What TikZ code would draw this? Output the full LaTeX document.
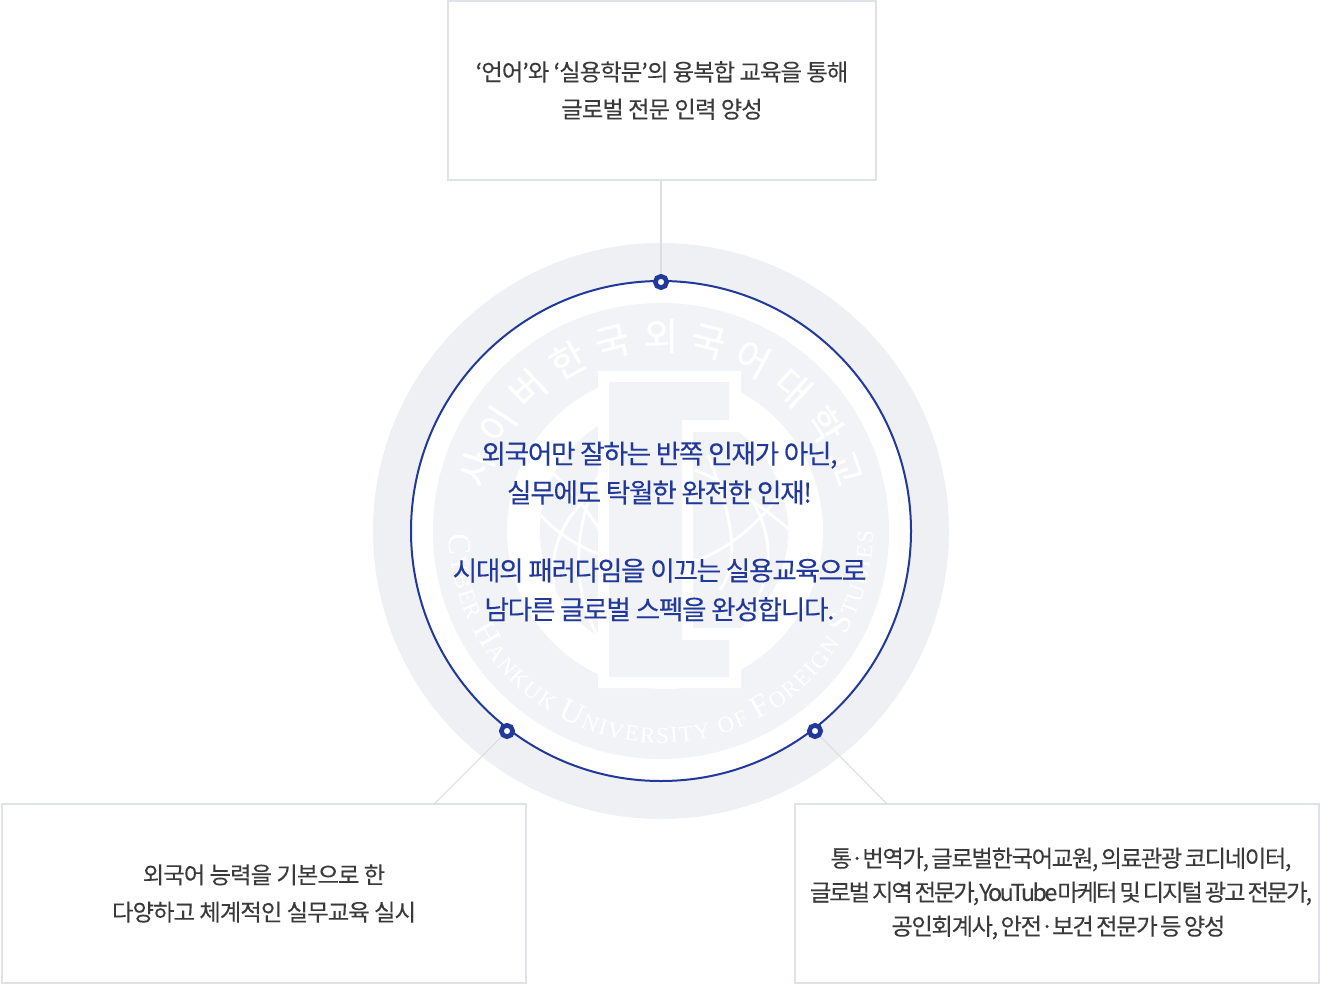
\documentclass[tikz,border=0pt]{standalone}
\usepackage{fontspec}
\usetikzlibrary{decorations.text,calc}
\newfontfamily\krA{Noto Sans CJK KR}[LetterSpace=-4,FakeBold=0.1]
\newfontfamily\krB{Noto Sans CJK KR}[LetterSpace=-6,WordSpace=0.6,FakeBold=0.1]
\newfontfamily\krD{Noto Sans CJK KR}[LetterSpace=-9,WordSpace=0.6,FakeBold=0.1]
\newfontfamily\krE{Noto Sans CJK KR}[LetterSpace=-11,FakeBold=0.1]
\newfontfamily\krC{Noto Sans CJK KR}[LetterSpace=-5,FakeBold=0.2]
\newfontfamily\krS{Noto Sans CJK KR}[FakeBold=0.8]
\newfontfamily\sealf{Liberation Serif}
\definecolor{ringc}{HTML}{EFF0F4}
\definecolor{sealc}{HTML}{F2F3F6}
\definecolor{navy}{HTML}{21399A}
\definecolor{edge}{HTML}{DFE2EA}
\definecolor{link}{HTML}{DADDE4}
\definecolor{ink}{HTML}{3A3A3A}
\def\fa{\color{white}\sealf\fontsize{24pt}{24pt}\selectfont}
\def\fb{\color{white}\sealf\fontsize{17pt}{17pt}\selectfont}
\tikzset{
  infobox/.style={draw=edge,line width=1.5pt,fill=white,inner sep=0pt,align=center,text=ink,font=\krA\fontsize{17.5pt}{27.9pt}\selectfont,minimum height=134.5pt},
  dotmark/.style={circle,draw=navy,fill=white,line width=3.5pt,minimum size=8.5pt,inner sep=0pt},
  linkline/.style={draw=link,line width=.8pt},
  sealchar/.style={text=white,inner sep=0pt,font=\krS\fontsize{28pt}{28pt}\selectfont},
  globeline/.style={draw=white,line width=2.2pt}
}
\begin{document}
\begin{tikzpicture}[x=.75pt,y=-.75pt]
\useasboundingbox (0,0) rectangle (1320,984);
% rings
\fill[ringc] (661,531) circle[radius=216pt];
\draw[navy,fill=white,line width=1.5pt] (661,531) circle[radius=187.5pt];
\fill[sealc] (661,531) circle[radius=171pt];
% curved Korean name
\foreach \ch/\ang [count=\i] in {사/161.3,이/147,버/133,한/118.7,국/104.5,외/90,국/76,어/62,대/47.5,학/33,교/19}{
  \node[sealchar,rotate=\ang-90] (seal\i) at ({661+195*cos(\ang)},{531-195*sin(\ang)}) {\ch};
}
% curved Latin name
\path[decorate,decoration={text along path,text align={fit to path},
  text={|\fa|C|\fb|YBER |\fa|H|\fb|ANKUK |\fa|U|\fb|NIVERSITY OF |\fa|F|\fb|OREIGN |\fa|S|\fb|TUDIES}}]
  (449.0,534.7) arc[start angle=181,end angle=360,radius=159pt];
% inner emblem
\fill[white] (665,531) circle[radius=118.5pt];
\fill[sealc] (664,531) circle[radius=93pt];
\begin{scope}
\clip (664,531) circle[radius=93pt];
\draw[globeline] (538,512) .. controls (570,550) and (620,566) .. (665,566) .. controls (710,566) and (755,530) .. (785,488);
\draw[globeline] (590,495) .. controls (555,525) and (535,575) .. (575,650);
\draw[globeline] (610,455) .. controls (570,520) and (570,590) .. (600,640);
\draw[globeline] (545,465) .. controls (565,485) and (590,510) .. (605,540);
\draw[globeline] (708,455) .. controls (725,500) and (745,555) .. (720,590);
\draw[globeline] (752,500) .. controls (778,545) and (770,580) .. (745,625);
\draw[globeline] (695,470) .. controls (720,480) and (755,500) .. (790,530);
\end{scope}
\fill[white] (598,371) -- (741,371) -- (741,432) -- (693,432) -- (693,628) -- (741,628) -- (741,688) -- (598,688) -- cycle;
\fill[sealc] (609,382) -- (729,382) -- (729,420) -- (682,420) -- (682,640) -- (729,640) -- (729,677) -- (609,677) -- cycle;
% boxes
\node[infobox,minimum width=321pt] (top) at (662,90.5) {‘언어’와 ‘실용학문’의 융복합 교육을 통해\\글로벌 전문 인력 양성};
\node[infobox,minimum width=393pt] (left) at (264,893.5) {외국어 능력을 기본으로 한\\다양하고 체계적인 실무교육 실시};
\node[infobox,minimum width=393pt,font=\krB\fontsize{17.5pt}{25.5pt}\selectfont] (right) at (1057,893.5) {\hspace*{6pt}통·번역가, 글로벌한국어교원, 의료관광 코디네이터,\\\hspace*{6pt}{\krD 글로벌 지역 전문가,{\krE YouTube}마케터 및 디지털 광고 전문가,}\\\hspace*{2pt}공인회계사, 안전·보건 전문가 등 양성};
% dots and connectors
\node[dotmark] (dota) at (661,282) {};
\node[dotmark] (dotb) at (507,731) {};
\node[dotmark] (dotc) at (815,731) {};
\coordinate (cb) at (435,803);
\coordinate (cc) at (886,803);
\draw[linkline] (dota) -- (dota |- top.south);
\draw[linkline] (dotb) -- (cb);
\draw[linkline] (dotc) -- (cc);
% centre text
\node[text=navy,align=center,inner sep=0pt,font=\krC\fontsize{20pt}{29.2pt}\selectfont] (main) at (659.5,531.5) {외국어만 잘하는 반쪽 인재가 아닌,\\실무에도 탁월한 완전한 인재!\\~\\시대의 패러다임을 이끄는 실용교육으로\\남다른 글로벌 스펙을 완성합니다.};
\end{tikzpicture}
\end{document}
